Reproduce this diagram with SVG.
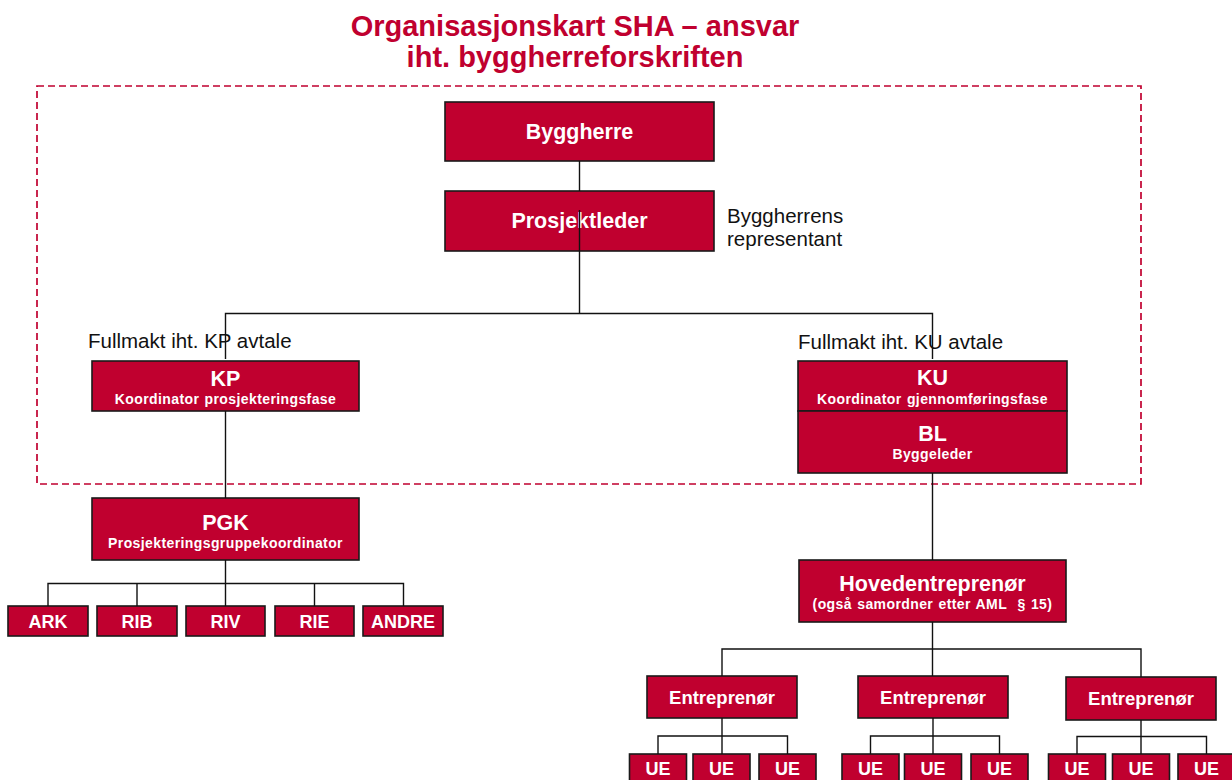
<svg xmlns="http://www.w3.org/2000/svg" width="1232" height="780" viewBox="0 0 1232 780">
<style>
.box{fill:#C0002F;stroke:#1a1a1a;stroke-width:1.6}
.t{font-family:"Liberation Sans",Arial,sans-serif;font-weight:bold;fill:#fff;text-anchor:middle}
.big{font-size:21.5px}
.sub{font-size:14px;letter-spacing:0.4px;word-spacing:1px}
.sm{font-size:18px}
.lbl{font-family:"Liberation Sans",Arial,sans-serif;font-size:20.5px;fill:#111}
.title{font-family:"Liberation Sans",Arial,sans-serif;font-weight:bold;font-size:29px;fill:#C0002F;text-anchor:middle}
.c{stroke:#111;stroke-width:1.4;fill:none}
</style>
<rect width="1232" height="780" fill="#fff"/>
<text class="title" x="575" y="36">Organisasjonskart SHA – ansvar</text>
<text class="title" x="575" y="67">iht. byggherreforskriften</text>
<rect x="37" y="86" width="1104" height="398" fill="none" stroke="#C0002F" stroke-width="1.7" stroke-dasharray="7,4"/>

<g id="byggherre"><rect class="box" x="445" y="102" width="269" height="59"/><text class="t big" x="579.5" y="139">Byggherre</text></g>
<g id="prosjektleder"><rect class="box" x="445" y="191" width="269" height="60"/><text class="t big" x="579.5" y="228">Prosjektleder</text></g>
<g id="byggherrens-representant"><text class="lbl" x="727" y="223">Byggherrens</text><text class="lbl" x="727" y="246">representant</text></g>
<g id="fullmakt-kp"><text class="lbl" x="88" y="348">Fullmakt iht. KP avtale</text></g>
<g id="fullmakt-ku"><text class="lbl" x="798" y="349">Fullmakt iht. KU avtale</text></g>

<g id="kp"><rect class="box" x="92" y="361" width="267" height="50"/><text class="t big" x="225.5" y="386">KP</text><text class="t sub" x="225.5" y="404">Koordinator prosjekteringsfase</text></g>
<g id="ku"><rect class="box" x="798" y="361" width="269" height="50"/><text class="t big" x="932.5" y="385">KU</text><text class="t sub" x="932.5" y="404">Koordinator gjennomføringsfase</text></g>
<g id="bl"><rect class="box" x="798" y="411" width="269" height="62"/><text class="t big" x="932.5" y="441">BL</text><text class="t sub" x="932.5" y="459">Byggeleder</text></g>

<g id="pgk"><rect class="box" x="92" y="498" width="267" height="62"/><text class="t big" x="225.5" y="530">PGK</text><text class="t sub" x="225.5" y="548">Prosjekteringsgruppekoordinator</text></g>
<g id="ark"><rect class="box" x="8" y="606" width="80" height="30"/><text class="t sm" x="48" y="628">ARK</text></g>
<g id="rib"><rect class="box" x="97" y="606" width="80" height="30"/><text class="t sm" x="137" y="628">RIB</text></g>
<g id="riv"><rect class="box" x="186" y="606" width="79" height="30"/><text class="t sm" x="225.5" y="628">RIV</text></g>
<g id="rie"><rect class="box" x="275" y="606" width="79" height="30"/><text class="t sm" x="314.5" y="628">RIE</text></g>
<g id="andre"><rect class="box" x="363" y="606" width="80" height="30"/><text class="t sm" x="403" y="628">ANDRE</text></g>

<g id="hovedentreprenor"><rect class="box" x="799" y="560" width="267" height="62"/><text class="t big" x="932.5" y="591">Hovedentreprenør</text><text class="t sub" x="932.5" y="609" xml:space="preserve">(også samordner etter AML  § 15)</text></g>

<g id="entreprenor1"><rect class="box" x="647" y="676" width="150" height="42"/><text class="t" font-size="18.5" x="722" y="704">Entreprenør</text></g>
<g id="entreprenor2"><rect class="box" x="858" y="676" width="150" height="42"/><text class="t" font-size="18.5" x="933" y="704">Entreprenør</text></g>
<g id="entreprenor3"><rect class="box" x="1066" y="677" width="150" height="43"/><text class="t" font-size="18.5" x="1141" y="705">Entreprenør</text></g>

<g id="ue1a"><rect class="box" x="629.5" y="754" width="57" height="40"/><text class="t sm" x="658" y="775">UE</text></g>
<g id="ue1b"><rect class="box" x="693" y="754" width="57" height="40"/><text class="t sm" x="721.5" y="775">UE</text></g>
<g id="ue1c"><rect class="box" x="759" y="754" width="57" height="40"/><text class="t sm" x="787.5" y="775">UE</text></g>
<g id="ue2a"><rect class="box" x="842" y="754" width="57" height="40"/><text class="t sm" x="870.5" y="775">UE</text></g>
<g id="ue2b"><rect class="box" x="904.5" y="754" width="57" height="40"/><text class="t sm" x="933" y="775">UE</text></g>
<g id="ue2c"><rect class="box" x="971" y="754" width="57" height="40"/><text class="t sm" x="999.5" y="775">UE</text></g>
<g id="ue3a"><rect class="box" x="1048.5" y="754" width="57" height="40"/><text class="t sm" x="1077" y="775">UE</text></g>
<g id="ue3b"><rect class="box" x="1112.5" y="754" width="57" height="40"/><text class="t sm" x="1141" y="775">UE</text></g>
<g id="ue3c"><rect class="box" x="1178" y="754" width="57" height="40"/><text class="t sm" x="1206.5" y="775">UE</text></g>

<g id="connectors" class="c">
<path d="M579.5 161V191"/>
<path d="M579.5 210V314"/>
<path d="M225.5 359V313.5H932.5V359"/>
<path d="M225.5 411V498"/>
<path d="M932.5 473V560"/>
<path d="M225.5 560V583.5M48 606V583.5H403.5V606M137 583.5V606M225.5 583.5V606M314.5 583.5V606"/>
<path d="M932.5 622V649M722 676V649H1141V677M932.5 649V676"/>
<path d="M722 718V736M658 754V736H787.5V754M722 736V754"/>
<path d="M933 718V736M870.5 754V736H999.5V754M933 736V754"/>
<path d="M1141 720V736.5M1077 754V736.5H1206.5V754M1141 736.5V754"/>
</g>
</svg>
